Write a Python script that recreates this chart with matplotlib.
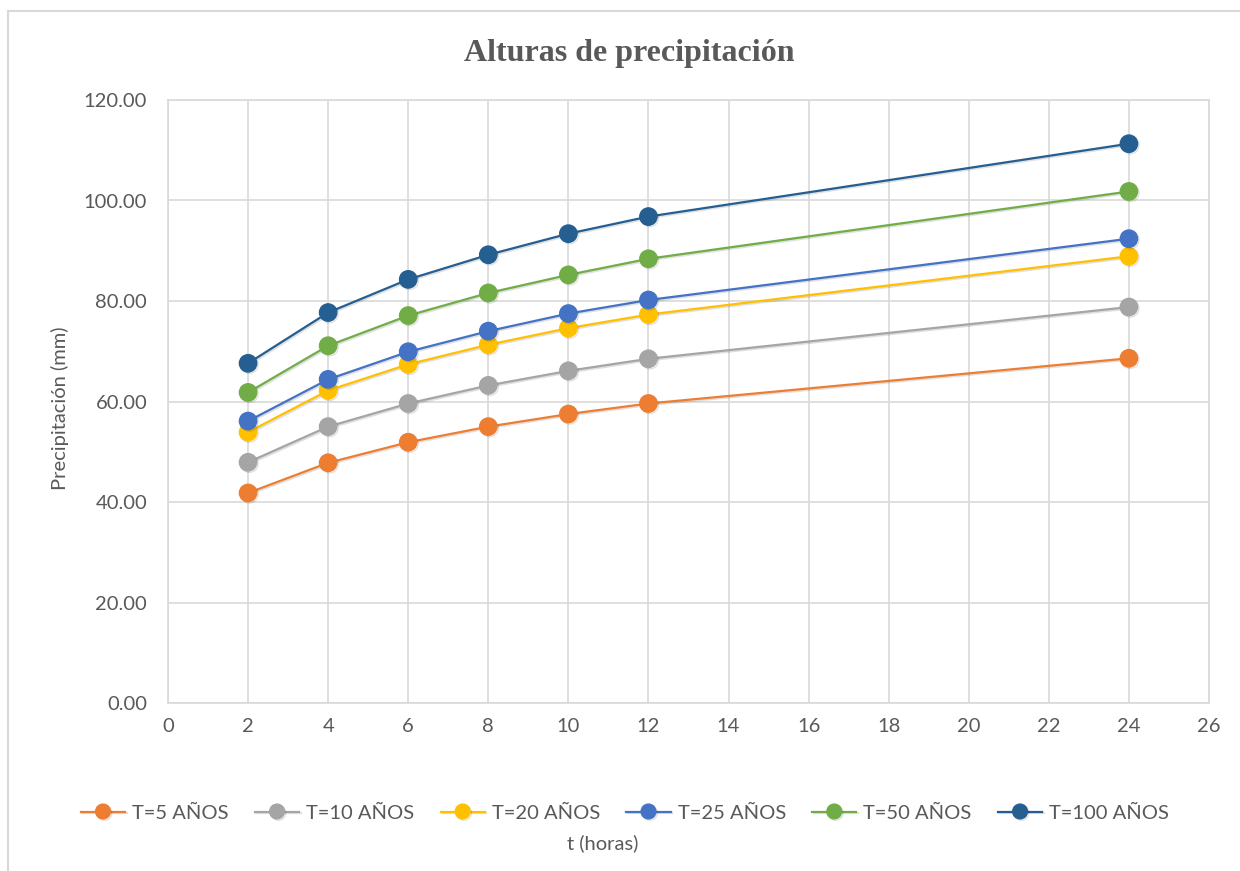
import matplotlib
matplotlib.use("Agg")
import matplotlib.pyplot as plt
import matplotlib.patheffects as pe
from matplotlib.lines import Line2D
from matplotlib.ticker import FormatStrFormatter, MultipleLocator

# Duraciones (horas) y alturas de precipitación (mm) por periodo de retorno
t_horas = [2, 4, 6, 8, 10, 12, 24]
p_t5 = [41.8, 47.8, 51.9, 55.0, 57.5, 59.6, 68.6]
p_t10 = [47.9, 55.0, 59.6, 63.2, 66.1, 68.5, 78.8]
p_t20 = [53.9, 62.2, 67.4, 71.3, 74.6, 77.3, 88.9]
p_t25 = [56.1, 64.4, 69.9, 74.0, 77.5, 80.2, 92.4]
p_t50 = [61.8, 71.1, 77.1, 81.6, 85.2, 88.4, 101.8]
p_t100 = [67.6, 77.7, 84.3, 89.2, 93.4, 96.8, 111.3]

series = [
    ("T=5 AÑOS", p_t5, "#ED7D31"),
    ("T=10 AÑOS", p_t10, "#A5A5A5"),
    ("T=20 AÑOS", p_t20, "#FFC000"),
    ("T=25 AÑOS", p_t25, "#4472C4"),
    ("T=50 AÑOS", p_t50, "#70AD47"),
    ("T=100 AÑOS", p_t100, "#255E91"),
]

TXT = "#595959"
GRID = "#D9D9D9"
FS = 14.5
plt.rcParams["font.family"] = ["Lato", "DejaVu Sans"]

fig = plt.figure(figsize=(12.4, 8.71), dpi=100)
ax = fig.add_axes([168 / 1240, 1 - 703 / 871, (1209 - 168) / 1240, (703 - 100) / 871])

shadow = [pe.SimpleLineShadow(offset=(1.0, -1.0), shadow_color="k", alpha=0.12),
          pe.Normal()]
for label, vals, color in series:
    ax.plot(t_horas, vals, color=color, lw=1.6, marker="o", ms=12.5,
            markeredgecolor=color, label=label, path_effects=shadow, zorder=3)

ax.set_xlim(0, 26)
ax.set_ylim(0, 120)
ax.xaxis.set_major_locator(MultipleLocator(2))
ax.yaxis.set_major_locator(MultipleLocator(20))
ax.yaxis.set_major_formatter(FormatStrFormatter("%.2f"))
ax.grid(True, color=GRID, lw=1.2)
ax.set_axisbelow(True)
for s in ax.spines.values():
    s.set_color(GRID)
    s.set_linewidth(1.2)
ax.tick_params(length=0, labelsize=FS, colors=TXT)
ax.tick_params(axis="y", pad=15)
ax.tick_params(axis="x", pad=11)

fig.text(629 / 1240, 1 - 53 / 871, "Alturas de precipitación",
         family="Liberation Serif", weight="bold", fontsize=23, color=TXT,
         ha="center", va="center")
fig.text(60 / 1240, 1 - 408 / 871, "Precipitación (mm)", rotation=90,
         fontsize=FS, color=TXT, ha="center", va="center")
fig.text(603 / 1240, 1 - 843 / 871, "t (horas)", fontsize=FS, color=TXT,
         ha="center", va="center")

fig.legend(loc="center", bbox_to_anchor=(625 / 1240, 1 - 813 / 871), ncol=6,
           frameon=False, fontsize=FS, labelcolor=TXT, handlelength=2.2,
           handletextpad=0.35, columnspacing=1.3, markerscale=0.85)

# borde del área del gráfico
fig.add_artist(Line2D([8 / 1240, 8 / 1240], [0, 1 - 11 / 871], transform=fig.transFigure,
                      color=GRID, lw=1.5))
fig.add_artist(Line2D([8 / 1240, 1], [1 - 11 / 871, 1 - 11 / 871], transform=fig.transFigure,
                      color=GRID, lw=1.5))

fig.savefig("out.png", dpi=100, facecolor="white")
